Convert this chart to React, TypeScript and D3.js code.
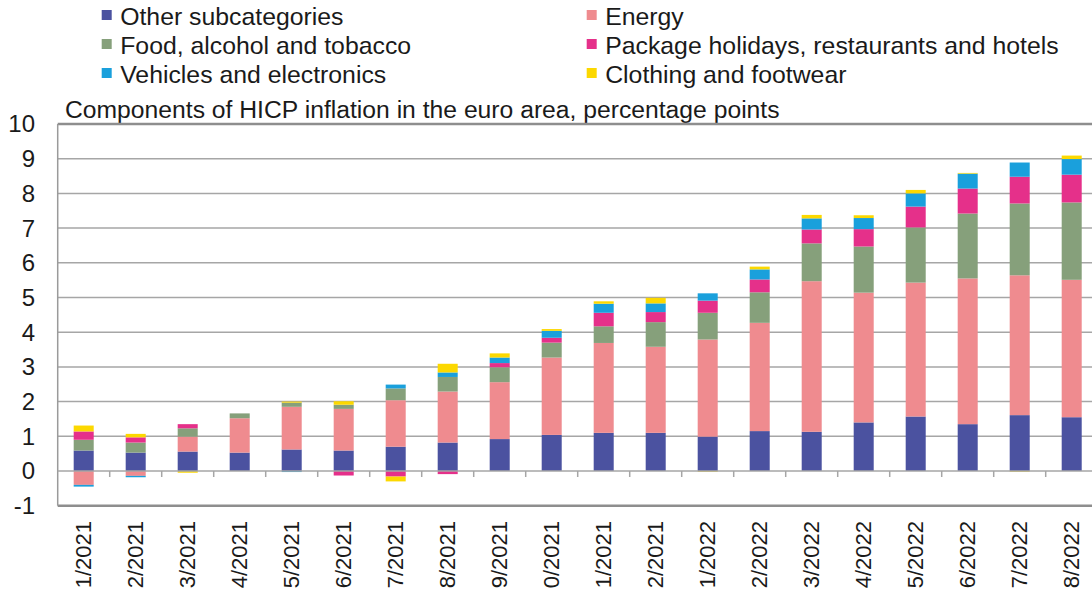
import React from "react";
import * as d3 from "d3";

const categories = ["1/2021","2/2021","3/2021","4/2021","5/2021","6/2021","7/2021","8/2021","9/2021","0/2021","1/2021","2/2021","1/2022","2/2022","3/2022","4/2022","5/2022","6/2022","7/2022","8/2022"];

const other = [0.59,0.53,0.56,0.53,0.62,0.59,0.70,0.82,0.92,1.04,1.10,1.10,0.99,1.15,1.13,1.40,1.57,1.35,1.61,1.55];
const energy = [-0.40,-0.14,0.43,0.99,1.23,1.20,1.34,1.47,1.64,2.23,2.59,2.48,2.80,3.12,4.34,3.74,3.86,4.20,4.03,3.96];
const food = [0.31,0.29,0.24,0.14,0.12,0.12,0.34,0.42,0.43,0.43,0.48,0.71,0.77,0.88,1.09,1.33,1.59,1.87,2.07,2.23];
const packageHolidays = [0.24,0.15,0.12,0,0,-0.13,-0.16,-0.09,0.12,0.14,0.39,0.29,0.35,0.37,0.40,0.50,0.60,0.72,0.77,0.80];
const vehicles = [-0.05,-0.04,0,0,-0.03,0,0.11,0.13,0.16,0.20,0.26,0.25,0.21,0.29,0.32,0.32,0.38,0.43,0.41,0.45];
const clothing = [0.17,0.10,-0.05,0,0.03,0.10,-0.14,0.25,0.12,0.05,0.07,0.16,-0.02,0.08,0.10,0.08,0.10,0.02,-0.02,0.10];

const seriesKeys = ["other","energy","food","package","vehicles","clothing"];
const seriesNames = ["Other subcategories","Energy","Food, alcohol and tobacco","Package holidays, restaurants and hotels","Vehicles and electronics","Clothing and footwear"];
const seriesColors = ["#4b52a0","#ef8b8f","#86a07b","#e5308a","#1aa0dc","#fcd800"];
const seriesValues = [other, energy, food, packageHolidays, vehicles, clothing];

const yTicks = [-1,0,1,2,3,4,5,6,7,8,9,10];
const title = "Components of HICP inflation in the euro area, percentage points";

const W = 1092, H = 589;
const FONT = "'Liberation Sans', Arial, Helvetica, sans-serif";
const TEXT = "#1a1a1a";

export default function App() {
  const rows = categories.map((_, i) => {
    const r: any = { i };
    seriesKeys.forEach((k, s) => (r[k] = seriesValues[s][i]));
    return r;
  });
  const stacked = d3.stack<any>().keys(seriesKeys).offset(d3.stackOffsetDiverging)(rows);

  const x = d3.scaleBand<number>()
    .domain(categories.map((_, i) => i))
    .range([57.7, 1097.7])
    .paddingInner(0.615)
    .paddingOuter(0.3075);
  const y = d3.scaleLinear().domain([-1, 10]).range([505.7, 124]);
  const step = x.step();

  const legendPos = [
    { x: 101.7, y: 25 }, { x: 586.7, y: 25 },
    { x: 101.7, y: 54 }, { x: 586.7, y: 54 },
    { x: 101.7, y: 83 }, { x: 586.7, y: 83 },
  ];
  const legendOrder = [0, 1, 2, 3, 4, 5];

  return (
    <div style={{ position: "absolute", left: 0, top: 0 }}>
      <svg width={W} height={H} style={{ display: "block", background: "#fff" }} fontFamily={FONT}>
        {/* legend */}
        {legendOrder.map((s, k) => (
          <g key={s}>
            <rect x={legendPos[k].x} y={legendPos[k].y - 15} width={10} height={10} fill={seriesColors[s]} />
            <text x={legendPos[k].x + 18.5} y={legendPos[k].y} fontSize={24.8} fill={TEXT}>{seriesNames[s]}</text>
          </g>
        ))}
        {/* title */}
        <text x={65} y={118} fontSize={24.7} fill={TEXT}>{title}</text>

        {/* gridlines */}
        {yTicks.filter(t => t > -1 && t < 10 && t !== 0).map(t => (
          <line key={t} x1={57.7} x2={W} y1={y(t)} y2={y(t)} stroke="#a6a6a6" strokeWidth={1.5} />
        ))}
        {/* frame */}
        <line x1={57.7} x2={W} y1={y(10)} y2={y(10)} stroke="#8e8e8e" strokeWidth={2.5} />
        <line x1={57.7} x2={W} y1={y(-1)} y2={y(-1)} stroke="#8e8e8e" strokeWidth={2.5} />
        <line x1={57.7} x2={57.7} y1={y(10)} y2={y(-1)} stroke="#9a9a9a" strokeWidth={1.5} />

        {/* bars */}
        {stacked.map((layer, s) => (
          <g key={layer.key} fill={seriesColors[s]}>
            {layer.map((d, i) => {
              const y0 = y(d[0]), y1 = y(d[1]);
              const h = Math.abs(y0 - y1);
              if (h < 0.01) return null;
              return <rect key={i} x={x(i)} y={Math.min(y0, y1)} width={x.bandwidth()} height={h} />;
            })}
          </g>
        ))}

        {/* zero axis */}
        <line x1={57.7} x2={W} y1={y(0)} y2={y(0)} stroke="#a6a6a6" strokeWidth={1.5} />
        {categories.map((_, i) => (
          <line key={i} x1={57.7 + (i + 1) * step} x2={57.7 + (i + 1) * step} y1={y(0)} y2={y(0) + 6} stroke="#a6a6a6" strokeWidth={1.5} />
        ))}

        {/* y labels */}
        {yTicks.map(t => (
          <text key={t} x={35} y={y(t)} dy="0.35em" fontSize={24} textAnchor="end" fill={TEXT}>{t}</text>
        ))}

        {/* x labels */}
        {categories.map((c, i) => (
          <text key={i} transform={`translate(${(x(i) as number) + x.bandwidth() / 2 + 7.5},521) rotate(-90)`} fontSize={22} textAnchor="end" fill={TEXT}>{c}</text>
        ))}
      </svg>
    </div>
  );
}
